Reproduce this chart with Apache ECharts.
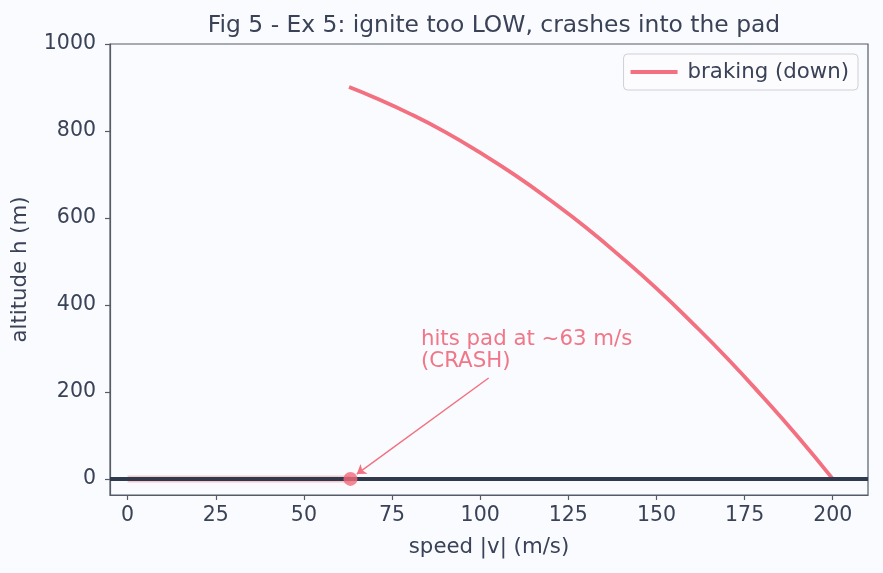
<!DOCTYPE html>
<html>
<head>
<meta charset="utf-8">
<script src="https://cdn.jsdelivr.net/npm/echarts@6/dist/echarts.min.js"></script>
<style>
    html, body { margin: 0; padding: 0; background: #fafbfe; }
    #chart { width: 883px; height: 573px; }
</style>
</head>
<body>
<div id="chart"></div>
<script>
// braking curve: speed |v| (m/s) -> altitude h (m)
var brakeSpeed = [62.8, 70, 80, 90, 100, 110, 120, 130, 140, 150, 160, 170, 180, 190, 200];
var brakeAlt = [901, 877, 840, 798, 750, 698, 640, 578, 510, 438, 360, 278, 190, 98, 0];
// free fall along the pad before ignition
var fallSpeed = [0, 63.2];
var fallAlt = [0, 0];
// impact point + annotation
var impact = [63.2, 0];
var arrowFrom = [102.4, 232];
var arrowTo = [65, 11];
var notePos = [83.2, 347];
var noteText = 'hits pad at ~63 m/s\n(CRASH)';
var xTicks = [0, 25, 50, 75, 100, 125, 150, 175, 200];
var yTicks = [0, 200, 400, 600, 800, 1000];

var ink = '#3a4257';
var spine = '#565b68';
var red = '#f2707f';
var font = 'DejaVu Sans';
var tickFs = 20.5;
var fs = 21.3;

function pairs(xs, ys) {
    var out = [];
    for (var i = 0; i < xs.length; i++) out.push([xs[i], ys[i]]);
    return out;
}

var option = {
    backgroundColor: '#fafbfe',
    animation: false,
    textStyle: { fontFamily: font, color: ink },
    title: {
        text: 'Fig 5 - Ex 5: ignite too LOW, crashes into the pad',
        left: 489, top: 9, textAlign: 'center',
        textStyle: { fontFamily: font, fontSize: 23.4, fontWeight: 'normal', color: ink }
    },
    legend: {
        right: 25, top: 54,
        data: [{ name: 'braking (down)', icon: 'rect' }],
        itemWidth: 47, itemHeight: 4, itemGap: 10,
        padding: [7, 9, 7, 7],
        borderColor: '#cfd0d6', borderWidth: 1, borderRadius: 4,
        backgroundColor: '#fcfcfe',
        textStyle: { fontFamily: font, fontSize: fs, lineHeight: 22, color: ink, padding: [0, 0, 0, 5] }
    },
    grid: {
        left: 110, right: 15, top: 44, bottom: 78,
        show: true, borderColor: spine, borderWidth: 1.2, backgroundColor: 'transparent'
    },
    xAxis: {
        type: 'value', min: -5, max: 210,
        name: 'speed |v| (m/s)', nameLocation: 'middle', nameGap: 42,
        nameTextStyle: { fontFamily: font, fontSize: fs, color: ink },
        axisLine: { show: true, onZero: false, lineStyle: { color: spine, width: 1.2 } },
        axisTick: { show: true, length: 5, customValues: xTicks, lineStyle: { color: spine, width: 1.2 } },
        axisLabel: { customValues: xTicks, fontFamily: font, fontSize: tickFs, color: ink, margin: 10 },
        splitLine: { show: false }
    },
    yAxis: {
        type: 'value', min: -37, max: 1000,
        name: 'altitude h (m)', nameLocation: 'middle', nameGap: 79,
        nameTextStyle: { fontFamily: font, fontSize: fs, color: ink },
        axisLine: { show: true, onZero: false, lineStyle: { color: spine, width: 1.2 } },
        axisTick: { show: true, length: 5, customValues: yTicks, lineStyle: { color: spine, width: 1.2 } },
        axisLabel: {
            customValues: yTicks, fontFamily: font, fontSize: tickFs, color: ink, margin: 14,
            formatter: function (v) { return String(v); }
        },
        splitLine: { show: false }
    },
    series: [
        {
            name: 'fall',
            type: 'line',
            data: pairs(fallSpeed, fallAlt),
            symbol: 'none',
            lineStyle: { color: '#f8c8ce', width: 7 },
            z: 1,
            silent: true
        },
        {
            name: 'pad',
            type: 'line',
            data: [],
            markLine: {
                silent: true, symbol: ['none', 'none'],
                label: { show: false },
                lineStyle: { color: '#2f3a4d', width: 3.8, type: 'solid' },
                data: [{ yAxis: 0 }]
            },
            z: 2
        },
        {
            name: 'braking (down)',
            type: 'line',
            data: pairs(brakeSpeed, brakeAlt),
            smooth: true,
            symbol: 'none',
            lineStyle: { color: red, width: 3.8 },
            itemStyle: { color: red },
            z: 3
        },
        {
            name: 'impact',
            type: 'scatter',
            data: [impact],
            symbolSize: 14,
            itemStyle: { color: '#f26a7b' },
            z: 5,
            markLine: {
                silent: true,
                symbol: ['none', 'arrow'],
                symbolSize: 9,
                label: { show: false },
                lineStyle: { color: red, width: 1.4, type: 'solid' },
                itemStyle: { color: red },
                data: [[{ coord: arrowFrom }, { coord: arrowTo }]]
            },
            markPoint: {
                silent: true,
                symbol: 'circle', symbolSize: 0,
                data: [{ coord: notePos }],
                label: {
                    show: true, position: 'right', distance: 0,
                    align: 'left', verticalAlign: 'top',
                    formatter: noteText,
                    fontFamily: font, fontSize: fs, lineHeight: 22,
                    color: '#f07688'
                }
            }
        }
    ]
};

var myChart = echarts.init(document.getElementById('chart'), null, { renderer: 'canvas' });
myChart.setOption(option);
</script>
</body>
</html>
